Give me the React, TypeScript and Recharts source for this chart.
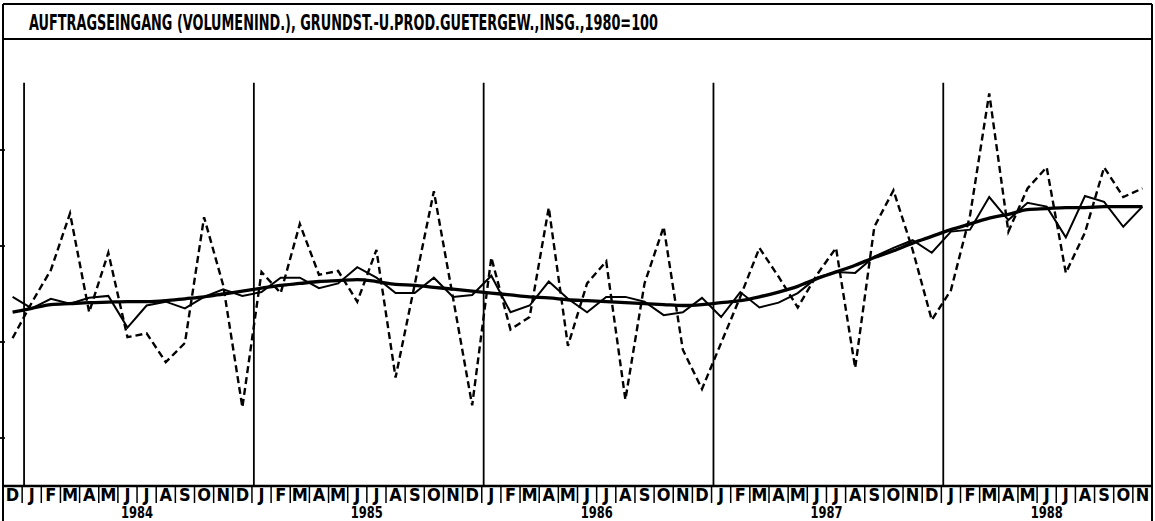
import { LineChart, Line, XAxis, YAxis, ReferenceLine } from 'recharts';

// month initials, Dec 1983 .. Nov 1988
const yearInitials = ['J', 'F', 'M', 'A', 'M', 'J', 'J', 'A', 'S', 'O', 'N', 'D'];
const monthLetters = ['D', ...yearInitials, ...yearInitials, ...yearInitials, ...yearInitials, ...yearInitials.slice(0, 11)];
const monthYears = monthLetters.map((_, i) => (i === 0 ? 1983 : 1984 + Math.floor((i - 1) / 12)));
const yearLabels = [1984, 1985, 1986, 1987, 1988];

// original series (dashed)
const original = [
  100.4, 104.1, 107.5, 113.4, 103.1, 109.3, 100.5, 100.9, 97.9, 99.9, 113.0, 105.9, 93.2,
  107.3, 105.1, 112.3, 107.0, 107.4, 104.2, 109.6, 96.3, 106.0, 115.7, 104.6, 93.4,
  108.8, 101.3, 102.6, 114.0, 99.6, 106.1, 108.4, 94.0, 106.1, 112.0, 99.2, 95.1,
  99.9, 104.7, 109.8, 106.8, 103.6, 107.0, 109.8, 97.3, 112.0, 115.8, 109.6, 102.3,
  105.4, 113.2, 125.9, 111.5, 116.0, 118.2, 107.2, 111.4, 118.2, 115.1, 116.0,
];
// seasonally adjusted (thin solid)
const adjusted = [
  104.7, 103.5, 104.5, 104.0, 104.6, 104.8, 101.5, 103.8, 104.2, 103.5, 104.7, 105.5, 104.8,
  105.2, 106.7, 106.7, 105.6, 106.1, 107.8, 106.7, 105.1, 105.1, 106.7, 104.7, 104.9,
  106.9, 103.1, 103.8, 106.3, 104.5, 103.1, 104.7, 104.7, 104.2, 102.8, 103.1, 104.6,
  102.6, 105.2, 103.6, 104.1, 105.1, 106.7, 107.3, 107.2, 108.9, 109.8, 110.6, 109.3,
  111.5, 111.7, 115.1, 112.7, 114.5, 114.1, 110.9, 115.2, 114.6, 112.0, 114.1,
];
// trend (thick solid)
const trend = [
  103.1, 103.5, 103.9, 104.0, 104.1, 104.15, 104.2, 104.2, 104.3, 104.5, 104.7, 105.0, 105.3,
  105.6, 105.9, 106.1, 106.3, 106.4, 106.5, 106.3, 106.0, 105.9, 105.7, 105.5, 105.3,
  105.1, 104.9, 104.7, 104.6, 104.4, 104.3, 104.2, 104.1, 104.0, 103.9, 103.8, 103.9,
  104.1, 104.3, 104.7, 105.2, 105.8, 106.6, 107.3, 108.0, 108.8, 109.5, 110.3, 111.0,
  111.7, 112.3, 112.9, 113.3, 113.8, 113.9, 114.0, 114.0, 114.1, 114.1, 114.1,
];
const yTicks = [90, 100, 110, 120];

const W = 1155;
const H = 521;
const PAD = 3;
const STEP = (W - 2 * PAD) / monthLetters.length;
const FONT = "'DejaVu Sans Condensed', 'Liberation Sans Narrow', 'DejaVu Sans', sans-serif";

const data = monthLetters.map((m, i) => ({
  i,
  m,
  orig: original[i],
  adj: adjusted[i],
  trend: trend[i],
}));

const monthTicks = data.map((d) => d.i);
const yearTicks = yearLabels.map((y) => {
  const idx = data.filter((d) => monthYears[d.i] === y).map((d) => d.i);
  return idx.reduce((a, b) => a + b, 0) / idx.length;
});
const januaries = data.filter((d) => d.i > 0 && monthYears[d.i] !== monthYears[d.i - 1]).map((d) => d.i);

const MonthTick = (props: any) => {
  const { x, y, payload } = props;
  return (
    <g>
      <line x1={x - STEP / 2} x2={x - STEP / 2} y1={y} y2={y + 17} stroke="#000" strokeWidth={1.5} />
      <text x={x} y={y + 15} textAnchor="middle" fontFamily={FONT} fontWeight="bold" fontSize={18} fill="#000">
        {monthLetters[payload.value]}
      </text>
    </g>
  );
};

const YearTick = (props: any) => {
  const { x, y, payload } = props;
  const k = yearTicks.indexOf(payload.value);
  return (
    <text x={x} y={y + 11} textAnchor="middle" fontFamily={FONT} fontWeight="bold" fontSize={15} fill="#000" textLength={32} lengthAdjust="spacingAndGlyphs">
      {yearLabels[k]}
    </text>
  );
};

export default function App() {
  return (
    <div style={{ position: 'absolute', left: 0, top: 0, width: W, height: H, background: '#fff' }}>
      <LineChart width={W} height={H} data={data} margin={{ top: 82.8, right: PAD, bottom: 0, left: PAD }}>
        <XAxis
          xAxisId="m"
          dataKey="i"
          type="number"
          domain={[-0.5, monthLetters.length - 0.5]}
          ticks={monthTicks}
          interval={0}
          tick={<MonthTick />}
          tickLine={false}
          tickSize={0}
          tickMargin={0}
          axisLine={{ stroke: '#000', strokeWidth: 2.5 }}
          height={21}
        />
        <XAxis
          xAxisId="y"
          dataKey="i"
          type="number"
          domain={[-0.5, monthLetters.length - 0.5]}
          ticks={yearTicks}
          interval={0}
          tick={<YearTick />}
          tickLine={false}
          tickSize={0}
          tickMargin={0}
          axisLine={false}
          height={14}
        />
        <YAxis domain={[85, 127]} ticks={yTicks} width={0} tick={false} tickLine={false} axisLine={false} />
        {yTicks.map((v) => (
          <ReferenceLine
            key={`t${v}`}
            xAxisId="m"
            segment={[{ x: -0.66, y: v }, { x: -0.4, y: v }]}
            ifOverflow="visible"
            stroke="#000"
            strokeWidth={1.8}
          />
        ))}
        {januaries.map((j) => (
          <ReferenceLine key={j} xAxisId="m" x={j - 0.4} stroke="#000" strokeWidth={1.8} />
        ))}
        <Line xAxisId="m" type="linear" dataKey="orig" stroke="#000" strokeWidth={2.4} strokeDasharray="7 4" dot={false} isAnimationActive={false} />
        <Line xAxisId="m" type="linear" dataKey="adj" stroke="#000" strokeWidth={2} dot={false} isAnimationActive={false} />
        <Line xAxisId="m" type="monotone" dataKey="trend" stroke="#000" strokeWidth={3.3} dot={false} isAnimationActive={false} />
      </LineChart>
      <svg width={W} height={H} style={{ position: 'absolute', left: 0, top: 0, pointerEvents: 'none' }}>
        <line x1={PAD} x2={PAD} y1={4} y2={H} stroke="#000" strokeWidth={2} />
        <line x1={W - PAD} x2={W - PAD} y1={4} y2={H} stroke="#000" strokeWidth={2} />
        <line x1={PAD} x2={W - PAD} y1={4} y2={4} stroke="#000" strokeWidth={2} />
        <line x1={PAD} x2={W - PAD} y1={39} y2={39} stroke="#000" strokeWidth={2} />
        <text x={29} y={30} fontFamily={FONT} fontWeight="bold" fontSize={21} fill="#000" textLength={629} lengthAdjust="spacingAndGlyphs">
          AUFTRAGSEINGANG (VOLUMENIND.), GRUNDST.-U.PROD.GUETERGEW.,INSG.,1980=100
        </text>
      </svg>
    </div>
  );
}
